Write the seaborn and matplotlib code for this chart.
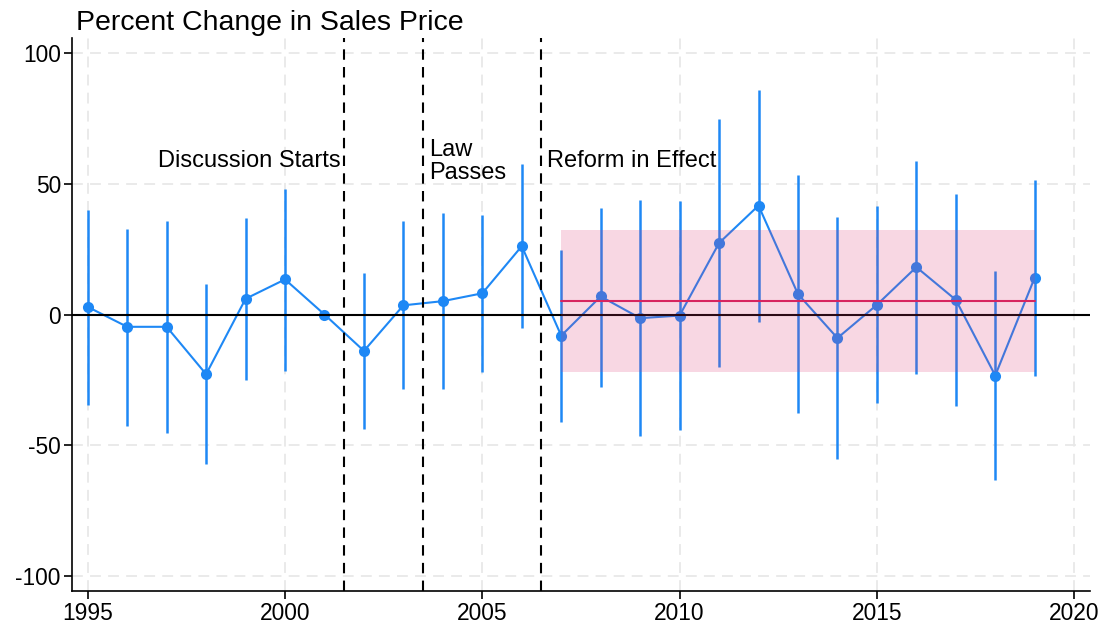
import numpy as np
import pandas as pd
import matplotlib
matplotlib.use("Agg")
import matplotlib.pyplot as plt
import seaborn as sns

years = list(range(1995, 2020))
estimate = [2.9, -4.7, -4.7, -22.8, 6.0, 13.4, 0.0, -13.9, 3.5, 5.1, 8.1, 26.1,
            -8.1, 6.9, -1.4, -0.4, 27.3, 41.6, 7.8, -9.0, 3.7, 18.1, 5.6, -23.3, 14.1]
ci_upper = [40.1, 32.8, 35.6, 11.6, 37.0, 48.1, np.nan, 16.0, 35.6, 38.9, 38.0, 57.4,
            24.7, 40.8, 43.8, 43.5, 74.6, 85.8, 53.3, 37.2, 41.5, 58.8, 46.0, 16.6, 51.4]
ci_lower = [-34.6, -42.5, -45.2, -57.0, -25.1, -21.5, np.nan, -43.9, -28.6, -28.6, -21.9, -5.1,
            -41.2, -27.5, -46.3, -44.0, -20.1, -2.7, -37.6, -55.2, -33.8, -22.6, -35.1, -63.1, -23.3]

event_lines = [2001.5, 2003.5, 2006.5]
event_labels = ["Discussion Starts", "Law\nPasses", "Reform in Effect"]

post_start, post_end = 2007, 2019
post_mean = 5.2
post_band = (-22.1, 32.3)

x_ticks = [1995, 2000, 2005, 2010, 2015, 2020]
y_ticks = [-100, -50, 0, 50, 100]

df = pd.DataFrame({"year": years, "estimate": estimate, "lo": ci_lower, "hi": ci_upper})

sns.set_theme(style="white")
plt.rcParams['font.family'] = ['Liberation Sans', 'DejaVu Sans']
plt.rcParams['axes.unicode_minus'] = False
plt.rcParams['text.color'] = 'black'

blue = "#1E88F5"
fig = plt.figure(figsize=(11.07, 6.27), dpi=100)
ax = fig.add_axes([0.065, 0.0574, 0.9196, 0.882])

# grid
for xt in x_ticks:
    ax.axvline(xt, color="#E8E8E8", lw=1.3, ls=(0, (6, 4)), zorder=0)
for yt in y_ticks:
    ax.axhline(yt, color="#E8E8E8", lw=1.3, ls=(0, (6, 4)), zorder=0)

ax.vlines(df["year"], df["lo"], df["hi"], color=blue, lw=1.8, zorder=2)
sns.lineplot(data=df, x="year", y="estimate", ax=ax, color=blue, lw=1.5,
             marker="o", markersize=8, markeredgewidth=0, zorder=3)

ax.axhline(0, color="black", lw=1.5, zorder=4)

ax.fill_between([post_start, post_end], post_band[0], post_band[1],
                color=(220/255, 55/255, 115/255), alpha=0.2, lw=0, zorder=5)
ax.plot([post_start, post_end], [post_mean, post_mean], color="#D7245F", lw=1.5, zorder=6)

for xv in event_lines:
    ax.axvline(xv, color="black", lw=1.5, ls=(0, (5, 3.5)), zorder=7)

ax.text(2001.42, 56.3, event_labels[0], ha="right", va="baseline", fontsize=17,
        color="black", zorder=8)
law_lines = event_labels[1].split("\n")
ax.text(2003.66, 60.5, law_lines[0], ha="left", va="baseline", fontsize=17,
        color="black", zorder=8)
ax.text(2003.66, 51.6, law_lines[1], ha="left", va="baseline", fontsize=17,
        color="black", zorder=8)
ax.text(2006.65, 56.3, event_labels[2], ha="left", va="baseline", fontsize=17,
        color="black", zorder=8)

ax.set_xlim(1994.6, 2020.4)
ax.set_ylim(-105.6, 105.6)
ax.set_xticks(x_ticks)
ax.set_yticks(y_ticks)
ax.set_xlabel("")
ax.set_ylabel("")
ax.tick_params(axis="both", which="major", labelsize=16.4, length=6, width=1.2,
               direction="out", color="black", labelcolor="black",
               bottom=True, left=True, pad=2)
for s in ["top", "right"]:
    ax.spines[s].set_visible(False)
for s in ["left", "bottom"]:
    ax.spines[s].set_color("black")
    ax.spines[s].set_linewidth(1.2)

fig.text(76/1107, 1 - 29.5/627, "Percent Change in Sales Price", ha="left", va="baseline",
         fontsize=20.5, color="black")

fig.savefig("out.png", dpi=100)
